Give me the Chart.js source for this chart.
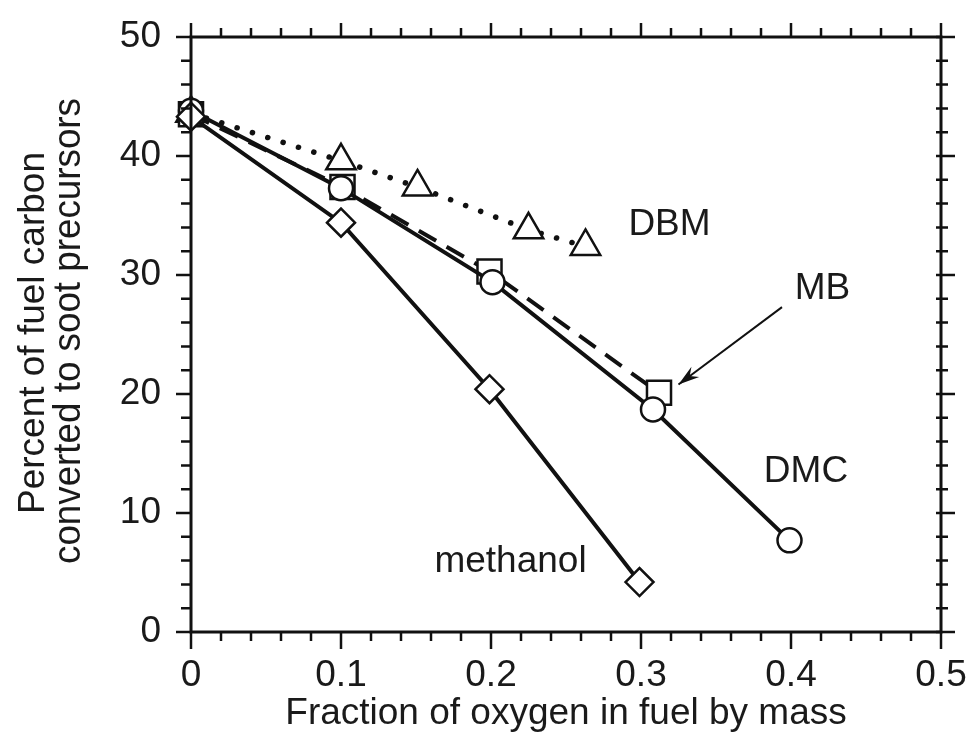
<!DOCTYPE html>
<html>
<head>
<meta charset="utf-8">
<script src="https://cdn.jsdelivr.net/npm/chart.js@4.4.1/dist/chart.umd.min.js"></script>
<style>
  html, body { margin: 0; padding: 0; background: #fff; }
  #wrap { width: 966px; height: 736px; }
</style>
</head>
<body>
<div id="wrap"><canvas id="chart" width="966" height="736"></canvas></div>
<script>
// Fraction of oxygen in fuel (by mass) vs percent of fuel carbon to soot precursors
const dbmX = [0, 0.1, 0.151, 0.225, 0.263];
const dbmY = [43.6, 39.6, 37.4, 33.8, 32.4];

const mbX = [0, 0.101, 0.199, 0.312];
const mbY = [43.5, 37.4, 30.3, 20.1];

const dmcX = [0, 0.1, 0.201, 0.308, 0.399];
const dmcY = [43.8, 37.3, 29.4, 18.7, 7.7];

const methX = [0, 0.1, 0.199, 0.299];
const methY = [43.3, 34.4, 20.4, 4.2];

const xTicks = [0, 0.1, 0.2, 0.3, 0.4, 0.5];
const yTicks = [0, 10, 20, 30, 40, 50];

const xTitle = 'Fraction of oxygen in fuel by mass';
const yTitle = ['Percent of fuel carbon', 'converted to soot precursors'];

// curve labels, placed in data units
const curveLabels = [
    { text: 'DBM', x: 0.319, y: 34.2 },
    { text: 'MB', x: 0.421, y: 28.8 },
    { text: 'DMC', x: 0.41, y: 13.5 },
    { text: 'methanol', x: 0.213, y: 5.9 }
];
const arrowFrom = { x: 0.394, y: 27.3 };
const arrowTo = { x: 0.325, y: 20.8 };

const FONT = '"Liberation Sans", Arial, Helvetica, sans-serif';
const INK = '#111';
const TEXT = '#1a1a1a';

function pts(xs, ys) {
    return xs.map((x, i) => ({ x: x, y: ys[i] }));
}

function series(label, xs, ys, style, radius, dash, width, cap) {
    return {
        label: label,
        data: pts(xs, ys),
        showLine: true,
        borderColor: INK,
        borderWidth: width,
        borderDash: dash,
        borderCapStyle: cap,
        pointStyle: style,
        pointRadius: radius,
        pointHoverRadius: radius,
        pointBackgroundColor: '#fff',
        pointBorderColor: INK,
        pointBorderWidth: 2.5,
        clip: false
    };
}

// frame, minor ticks, titles, curve labels and the MB arrow
const decorations = {
    id: 'decorations',
    afterDatasetsDraw(chart) {
        const ctx = chart.ctx;
        const xs = chart.scales.x;
        const ys = chart.scales.y;
        const L = xs.left, R = xs.right, T = ys.top, B = ys.bottom;

        ctx.save();
        ctx.strokeStyle = INK;
        ctx.lineWidth = 3;
        ctx.lineCap = 'butt';
        ctx.strokeRect(L, T, R - L, B - T);

        ctx.lineWidth = 2.5;
        ctx.beginPath();
        for (let i = 0; i <= 25; i++) {
            const v = i * 0.02;
            const px = xs.getPixelForValue(v);
            const major = i % 5 === 0;
            ctx.moveTo(px, B);
            ctx.lineTo(px, B + (major ? 17 : 9));
            ctx.moveTo(px, T);
            ctx.lineTo(px, T - (major ? 14 : 9));
        }
        for (let i = 0; i <= 25; i++) {
            const v = i * 2;
            const py = ys.getPixelForValue(v);
            const major = i % 5 === 0;
            ctx.moveTo(L, py);
            ctx.lineTo(L - (major ? 15 : 10), py);
            ctx.moveTo(R - 5, py);
            ctx.lineTo(R + (major ? 14 : 7), py);
        }
        ctx.stroke();

        // axis titles
        ctx.fillStyle = TEXT;
        ctx.font = '37px ' + FONT;
        ctx.textAlign = 'center';
        ctx.textBaseline = 'alphabetic';
        ctx.fillText(xTitle, 566, 724);

        ctx.save();
        ctx.translate(44, 333);
        ctx.rotate(-Math.PI / 2);
        ctx.fillText(yTitle[0], 0, 0, 363);
        ctx.restore();
        ctx.save();
        ctx.translate(80, 331);
        ctx.rotate(-Math.PI / 2);
        ctx.font = '39px ' + FONT;
        ctx.fillText(yTitle[1], 0, 0, 466);
        ctx.restore();

        // curve labels
        ctx.font = '37px ' + FONT;
        ctx.textBaseline = 'middle';
        curveLabels.forEach(c => {
            ctx.fillText(c.text, xs.getPixelForValue(c.x), ys.getPixelForValue(c.y));
        });

        // arrow pointing at MB
        const x1 = xs.getPixelForValue(arrowFrom.x), y1 = ys.getPixelForValue(arrowFrom.y);
        const x2 = xs.getPixelForValue(arrowTo.x), y2 = ys.getPixelForValue(arrowTo.y);
        const ang = Math.atan2(y2 - y1, x2 - x1);
        ctx.lineWidth = 2;
        ctx.beginPath();
        ctx.moveTo(x1, y1);
        ctx.lineTo(x2, y2);
        ctx.stroke();
        ctx.fillStyle = INK;
        ctx.beginPath();
        ctx.moveTo(x2, y2);
        ctx.lineTo(x2 - 22 * Math.cos(ang - 0.3), y2 - 22 * Math.sin(ang - 0.3));
        ctx.lineTo(x2 - 14 * Math.cos(ang), y2 - 14 * Math.sin(ang));
        ctx.lineTo(x2 - 22 * Math.cos(ang + 0.3), y2 - 22 * Math.sin(ang + 0.3));
        ctx.closePath();
        ctx.fill();
        ctx.restore();
    }
};

new Chart(document.getElementById('chart'), {
    type: 'scatter',
    data: {
        datasets: [
            series('methanol', methX, methY, 'rectRot', 14, [], 4, 'butt'),
            series('DMC', dmcX, dmcY, 'circle', 12, [], 4, 'butt'),
            series('MB', mbX, mbY, 'rect', 17, [20, 12], 4, 'butt'),
            series('DBM', dbmX, dbmY, 'triangle', 17, [0.1, 16], 5.5, 'round')
        ]
    },
    options: {
        responsive: false,
        animation: false,
        layout: { padding: { top: 37, right: 25, left: 0, bottom: 0 } },
        plugins: {
            legend: { display: false },
            tooltip: { enabled: false }
        },
        scales: {
            x: {
                type: 'linear',
                min: 0,
                max: 0.5,
                afterFit(scale) {
                    scale.height = 104;
                    scale.paddingLeft = 0;
                    scale.paddingRight = 0;
                },
                afterBuildTicks(scale) { scale.ticks = xTicks.map(v => ({ value: v })); },
                grid: { display: false, drawTicks: false },
                border: { display: false },
                ticks: {
                    padding: 22,
                    color: TEXT,
                    font: { family: FONT, size: 37 },
                    callback: v => (v === 0 ? '0' : v.toFixed(1))
                }
            },
            y: {
                type: 'linear',
                min: 0,
                max: 50,
                afterFit(scale) {
                    scale.width = 191;
                    scale.paddingTop = 0;
                    scale.paddingBottom = 0;
                },
                afterBuildTicks(scale) { scale.ticks = yTicks.map(v => ({ value: v })); },
                grid: { display: false, drawTicks: false },
                border: { display: false },
                ticks: {
                    padding: 30,
                    color: TEXT,
                    font: { family: FONT, size: 37 },
                    callback: v => String(v)
                }
            }
        }
    },
    plugins: [decorations]
});
</script>
</body>
</html>
